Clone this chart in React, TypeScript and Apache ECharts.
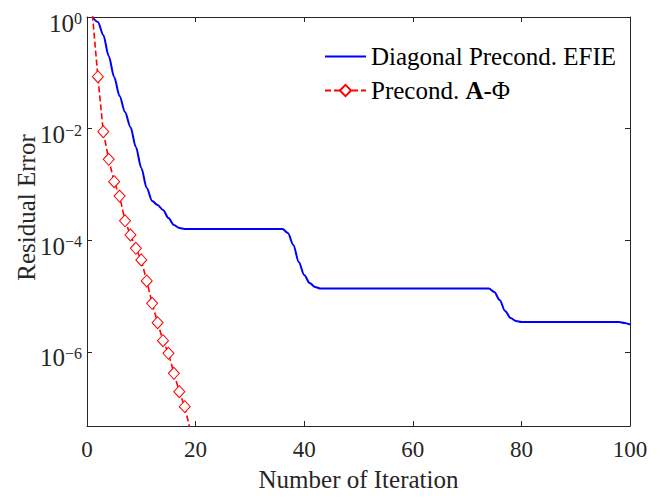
import { useEffect, useRef } from 'react';
import * as echarts from 'echarts';

// Iteration axis ticks and residual decades (exponents) shown on the log axis
const iterationTicks = [0, 20, 40, 60, 80, 100];
const decadeExponents = [0, -2, -4, -6];
const lowestExponent = -7.33;

// Diagonal Precond. EFIE convergence history
const efieIterations = [
  1, 2, 3, 4, 5, 6, 7, 8, 9, 10, 11, 12, 13, 14, 15, 16, 17, 18, 24, 30, 36,
  37, 38, 39, 40, 41, 42, 43, 50, 60, 70, 74, 75, 76, 77, 78, 79, 80, 90, 98, 99, 100,
];
const efieResidual = [
  1.0, 0.813, 0.475, 0.2, 8.41e-2, 3.84e-2, 1.98e-2, 1.07e-2, 4.68e-3, 1.97e-3, 8.61e-4,
  5.04e-4, 4.27e-4, 3.48e-4, 2.5e-4, 1.87e-4, 1.65e-4, 1.59e-4, 1.59e-4, 1.59e-4, 1.59e-4,
  1.35e-4, 8.2e-5, 4.07e-5, 2.38e-5, 1.71e-5, 1.45e-5, 1.36e-5, 1.36e-5, 1.36e-5, 1.36e-5,
  1.36e-5, 1.18e-5, 8.48e-6, 5.38e-6, 4.03e-6, 3.56e-6, 3.42e-6, 3.42e-6, 3.42e-6, 3.28e-6, 3.08e-6,
];

// Precond. A-Phi convergence history
const apIterations = [1, 2, 3, 4, 5, 6, 7, 8, 9, 10, 11, 12, 13, 14, 15, 16, 17, 18, 19];
const apResidual = [
  1.1, 8.51e-2, 8.79e-3, 2.82e-3, 1.12e-3, 6.19e-4, 2.23e-4, 1.24e-4, 7.16e-5, 4.42e-5,
  1.86e-5, 7.4e-6, 3.33e-6, 1.58e-6, 9.4e-7, 4.12e-7, 1.93e-7, 1.04e-7, 3.98e-8,
];

const EFIE_NAME = 'Diagonal Precond. EFIE';
const AP_NAME = 'Precond. A-Φ';

const FONT = "'Liberation Serif', 'Times New Roman', serif";
const AXIS_COLOR = '#262626';

// the vertical axis runs over -log10(residual), drawn inverted so 10^0 sits on top
const toDepth = (v: number) => -Math.log10(v);

export default function App() {
  const ref = useRef<HTMLDivElement>(null);

  useEffect(() => {
    if (!ref.current) return;
    const chart = echarts.init(ref.current, undefined, { renderer: 'svg' });

    const xMin = iterationTicks[0];
    const xMax = iterationTicks[iterationTicks.length - 1];
    const xStep = iterationTicks[1] - iterationTicks[0];
    const yStep = decadeExponents[0] - decadeExponents[1];

    const decadeLabel = (v: number) => {
      if (Math.abs(v - Math.round(v)) > 1e-6) return '';
      const exp = -Math.round(v);
      if (!decadeExponents.includes(exp)) return '';
      const sup = exp === 0 ? '0' : '\u2212' + String(-exp);
      return `{b|10}{s|${sup}}`;
    };

    const tick = { show: true, inside: true, length: 5, lineStyle: { color: AXIS_COLOR, width: 1 } };
    const line = { show: true, onZero: false, lineStyle: { color: AXIS_COLOR, width: 1 } };

    chart.setOption({
      animation: false,
      backgroundColor: '#ffffff',
      grid: {
        left: 87,
        right: 32,
        top: 17,
        bottom: 74,
        containLabel: false,
        outerBoundsMode: 'none',
      },
      legend: {
        orient: 'vertical',
        left: 324,
        top: 44,
        padding: 0,
        itemGap: 9,
        itemWidth: 41,
        itemHeight: 14,
        data: [
          // solid line only, no marker in the key
          { name: EFIE_NAME, itemStyle: { opacity: 0 } },
          { name: AP_NAME },
        ],
        formatter: (name: string) =>
          name === AP_NAME ? '{n|Precond. }{bold|A}{n|-Φ}' : `{n|${name}}`,
        textStyle: {
          fontFamily: FONT,
          fontSize: 25,
          color: '#000',
          rich: {
            n: { fontFamily: FONT, fontSize: 25, color: '#000', lineHeight: 25 },
            bold: { fontFamily: FONT, fontSize: 25, fontWeight: 'bold', color: '#000', lineHeight: 25 },
          },
        },
      },
      xAxis: [
        {
          type: 'value',
          min: xMin,
          max: xMax,
          interval: xStep,
          position: 'bottom',
          name: 'Number of Iteration',
          nameLocation: 'middle',
          nameGap: 41,
          nameMoveOverlap: false,
          nameTextStyle: { fontFamily: FONT, fontSize: 25, color: AXIS_COLOR },
          axisLine: line,
          axisTick: tick,
          splitLine: { show: false },
          axisLabel: { fontFamily: FONT, fontSize: 23, color: AXIS_COLOR, margin: 12 },
        },
        {
          type: 'value',
          min: xMin,
          max: xMax,
          interval: xStep,
          position: 'top',
          axisLine: line,
          axisTick: tick,
          splitLine: { show: false },
          axisLabel: { show: false },
        },
      ],
      yAxis: [
        {
          type: 'value',
          inverse: true,
          min: 0,
          max: -lowestExponent,
          interval: yStep,
          position: 'left',
          name: 'Residual Error',
          nameLocation: 'middle',
          nameGap: 48,
          nameMoveOverlap: false,
          nameRotate: 90,
          nameTextStyle: { fontFamily: FONT, fontSize: 25, color: AXIS_COLOR, padding: [0, 0, 0, 28] },
          axisLine: line,
          axisTick: tick,
          splitLine: { show: false },
          axisLabel: {
            margin: 5,
            padding: [12, 0, 0, 0],
            formatter: decadeLabel,
            rich: {
              b: {
                fontFamily: FONT,
                fontSize: 25,
                color: AXIS_COLOR,
                lineHeight: 25,
                padding: [8, 0, 0, 0],
                verticalAlign: 'bottom',
              },
              s: {
                fontFamily: FONT,
                fontSize: 16,
                color: AXIS_COLOR,
                lineHeight: 16,
                verticalAlign: 'top',
              },
            },
          },
        },
        {
          type: 'value',
          inverse: true,
          min: 0,
          max: -lowestExponent,
          interval: yStep,
          position: 'right',
          axisLine: line,
          axisTick: tick,
          splitLine: { show: false },
          axisLabel: { show: false },
        },
      ],
      series: [
        {
          name: EFIE_NAME,
          type: 'line',
          xAxisIndex: 0,
          yAxisIndex: 0,
          data: efieIterations.map((it, i) => [it, toDepth(efieResidual[i])]),
          symbol: 'none',
          smooth: 0.3,
          smoothMonotone: 'x',
          clip: true,
          lineStyle: { color: '#0000ff', width: 2, type: 'solid' },
          itemStyle: { color: '#0000ff' },
          z: 3,
        },
        {
          name: AP_NAME,
          type: 'line',
          xAxisIndex: 0,
          yAxisIndex: 0,
          data: apIterations.map((it, i) => [it, toDepth(apResidual[i])]),
          symbol: 'diamond',
          symbolSize: [11, 12],
          showSymbol: true,
          clip: true,
          lineStyle: { color: '#ff0000', width: 1.6, type: [6, 3] },
          itemStyle: { color: '#ffffff', borderColor: '#ff0000', borderWidth: 1 },
          z: 4,
        },
      ],
    });

    return () => chart.dispose();
  }, []);

  return (
    <div
      ref={ref}
      style={{ position: 'fixed', left: 0, top: 0, width: 662, height: 500, background: '#fff' }}
    />
  );
}
